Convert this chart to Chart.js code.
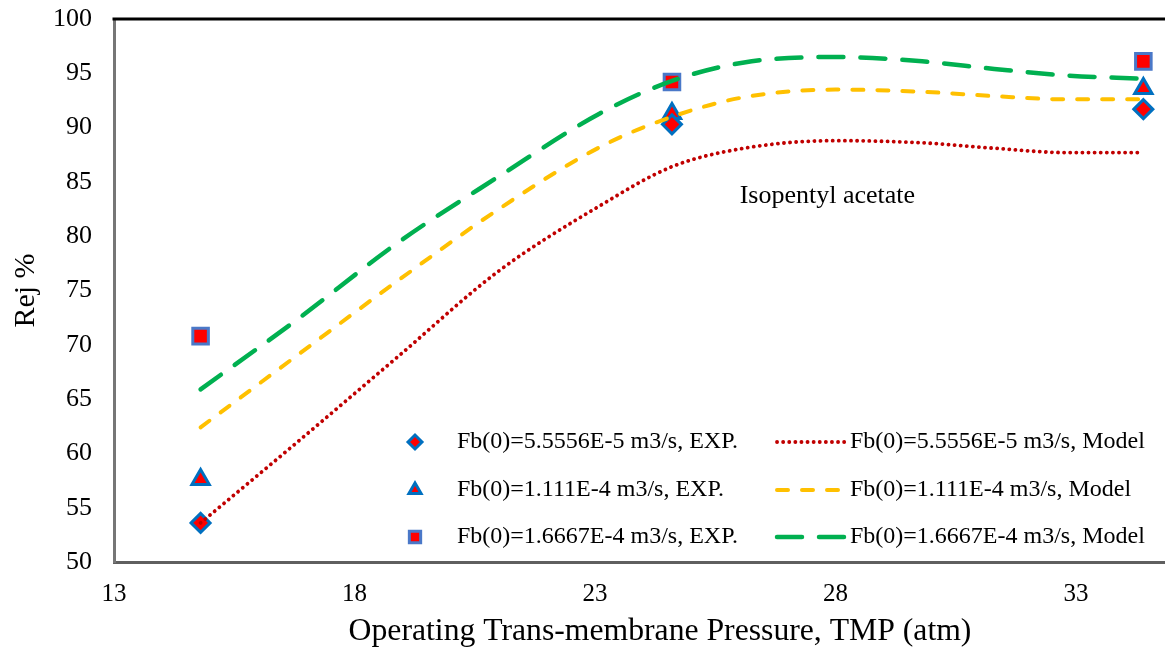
<!DOCTYPE html>
<html>
<head>
<meta charset="utf-8">
<script src="https://cdn.jsdelivr.net/npm/chart.js@4.4.1/dist/chart.umd.min.js"></script>
<style>
  html, body { margin: 0; padding: 0; background: #fff; overflow: hidden; }
  #wrap { width: 1165px; height: 648px; }
  canvas { display: block; }
</style>
</head>
<body>
<div id="wrap"><canvas id="grafico"></canvas></div>
<script>
// Dados
const xTicks = [13, 18, 23, 28, 33];
const yTicks = [50, 55, 60, 65, 70, 75, 80, 85, 90, 95, 100];

const xExp = [14.8, 24.6, 34.4];
const expBaixo = [53.6, 90.3, 91.7];   // Fb(0)=5.5556E-5
const expMedio = [57.6, 91.3, 93.6];   // Fb(0)=1.111E-4
const expAlto = [70.8, 94.2, 96.1];    // Fb(0)=1.6667E-4

const xModelo = [14.8, 16.8, 18.9, 21.0, 23.1, 24.6, 26.1, 28.0, 29.8, 31.3, 32.8, 34.4];
const modeloBaixo = [53.6, 61.0, 68.9, 76.8, 82.8, 86.4, 88.1, 88.8, 88.6, 88.1, 87.7, 87.7];
const modeloMedio = [62.4, 69.0, 75.9, 82.5, 88.2, 91.0, 92.8, 93.5, 93.3, 92.9, 92.6, 92.6];
const modeloAlto = [65.9, 72.3, 79.4, 85.5, 91.3, 94.3, 96.0, 96.5, 96.1, 95.4, 94.8, 94.5];

const labelsExp = ['Fb(0)=5.5556E-5 m3/s, EXP.', 'Fb(0)=1.111E-4 m3/s, EXP.', 'Fb(0)=1.6667E-4 m3/s, EXP.'];
const labelsModelo = ['Fb(0)=5.5556E-5 m3/s, Model', 'Fb(0)=1.111E-4 m3/s, Model', 'Fb(0)=1.6667E-4 m3/s, Model'];
const anotacao = { text: 'Isopentyl acetate', x: 27.83, y: 83.65 };
const tituloX = 'Operating Trans-membrane Pressure, TMP (atm)';

const FONTE = '"Liberation Serif", "Times New Roman", serif';

function pares(xs, ys) {
    return xs.map((x, i) => ({ x: x, y: ys[i] }));
}

function serieExp(label, ys, estilo, raio, corBorda, raioLegenda) {
    return {
        label: label,
        data: pares(xExp, ys),
        showLine: false,
        pointStyle: estilo,
        pointRadius: raio,
        pointBackgroundColor: '#FF0000',
        pointBorderColor: corBorda,
        pointBorderWidth: 3,
        raioLegenda: raioLegenda,
        order: 1
    };
}

function serieModelo(label, ys, cor, largura, tracejado) {
    return {
        label: label,
        data: pares(xModelo, ys),
        showLine: true,
        pointRadius: 0,
        borderColor: cor,
        borderWidth: largura,
        borderDash: tracejado,
        borderCapStyle: 'round',
        cubicInterpolationMode: 'monotone',
        fill: false,
        order: 0
    };
}

const datasets = [
    serieExp(labelsExp[0], expBaixo, 'rectRot', 9.5, '#0070C0', 7),
    serieExp(labelsExp[1], expMedio, 'triangle', 10, '#0070C0', 7),
    serieExp(labelsExp[2], expAlto, 'rect', 11, '#4A78C8', 8),
    serieModelo(labelsModelo[0], modeloBaixo, '#C00000', 3.8, [0.1, 6]),
    serieModelo(labelsModelo[1], modeloMedio, '#FFC000', 4, [11, 14]),
    serieModelo(labelsModelo[2], modeloAlto, '#00B050', 4.5, [25, 17])
];

// moldura superior + título do eixo x + anotação + legenda em grade 2x3
const pluginExtras = {
    id: 'extras',
    afterDraw(chart) {
        const ctx = chart.ctx;
        const area = chart.chartArea;
        const xs = chart.scales.x;
        const ys = chart.scales.y;
        ctx.save();

        ctx.strokeStyle = '#000';
        ctx.lineWidth = 3;
        ctx.beginPath();
        ctx.moveTo(area.left - 1.5, area.top);
        ctx.lineTo(area.right, area.top);
        ctx.stroke();

        ctx.fillStyle = '#000';
        ctx.textAlign = 'center';
        ctx.textBaseline = 'middle';
        ctx.font = '31.7px ' + FONTE;
        ctx.fillText(tituloX, 660, 632);

        ctx.font = '26px ' + FONTE;
        ctx.fillText(anotacao.text, xs.getPixelForValue(anotacao.x), ys.getPixelForValue(anotacao.y));

        const linhas = [442, 490, 537];
        ctx.font = '24px ' + FONTE;
        ctx.textAlign = 'left';
        for (let i = 0; i < 3; i++) {
            const y = linhas[i];
            const exp = chart.data.datasets[i];
            const mod = chart.data.datasets[i + 3];

            ctx.save();
            ctx.fillStyle = exp.pointBackgroundColor;
            ctx.strokeStyle = exp.pointBorderColor;
            ctx.lineWidth = 3;
            Chart.helpers.drawPoint(ctx, {
                pointStyle: exp.pointStyle,
                radius: exp.raioLegenda,
                borderWidth: 3,
                rotation: 0
            }, 415, y);
            ctx.restore();

            ctx.save();
            ctx.strokeStyle = mod.borderColor;
            ctx.lineWidth = mod.borderWidth;
            ctx.lineCap = 'round';
            ctx.setLineDash(mod.borderDash);
            ctx.beginPath();
            ctx.moveTo(777, y);
            ctx.lineTo(845, y);
            ctx.stroke();
            ctx.restore();

            ctx.fillStyle = '#000';
            ctx.fillText(exp.label, 457, y);
            ctx.fillText(mod.label, 850, y);
        }
        ctx.restore();
    }
};

const ctx = document.getElementById('grafico').getContext('2d');
new Chart(ctx, {
    type: 'scatter',
    data: { datasets: datasets },
    plugins: [pluginExtras],
    options: {
        responsive: true,
        maintainAspectRatio: false,
        animation: false,
        layout: { autoPadding: false, padding: { top: 19, right: 0, bottom: 0, left: 0 } },
        plugins: {
            legend: { display: false },
            tooltip: { enabled: false }
        },
        scales: {
            x: {
                type: 'linear',
                min: 13,
                max: 34.85,
                afterFit: function(scale) {
                    scale.height = 86;
                    scale.paddingLeft = 0;
                    scale.paddingRight = 0;
                },
                afterBuildTicks: function(scale) { scale.ticks = xTicks.map(v => ({ value: v })); },
                grid: { display: false, drawTicks: false },
                border: { display: true, color: '#5f5f5f', width: 3 },
                ticks: { color: '#000', padding: 17, font: { family: FONTE, size: 25 } },
                title: { display: false }
            },
            y: {
                type: 'linear',
                min: 50,
                max: 100,
                afterFit: function(scale) {
                    scale.width = 114;
                    scale.paddingTop = 0;
                    scale.paddingBottom = 0;
                },
                afterBuildTicks: function(scale) { scale.ticks = yTicks.map(v => ({ value: v })); },
                grid: { display: false, drawTicks: false },
                border: { display: true, color: '#767676', width: 3 },
                ticks: { color: '#000', padding: 22, font: { family: FONTE, size: 26 } },
                title: {
                    display: true,
                    text: 'Rej %',
                    color: '#000',
                    padding: { top: 8, bottom: 0 },
                    font: { family: FONTE, size: 30, lineHeight: 1.2 }
                }
            }
        }
    }
});
</script>
</body>
</html>
